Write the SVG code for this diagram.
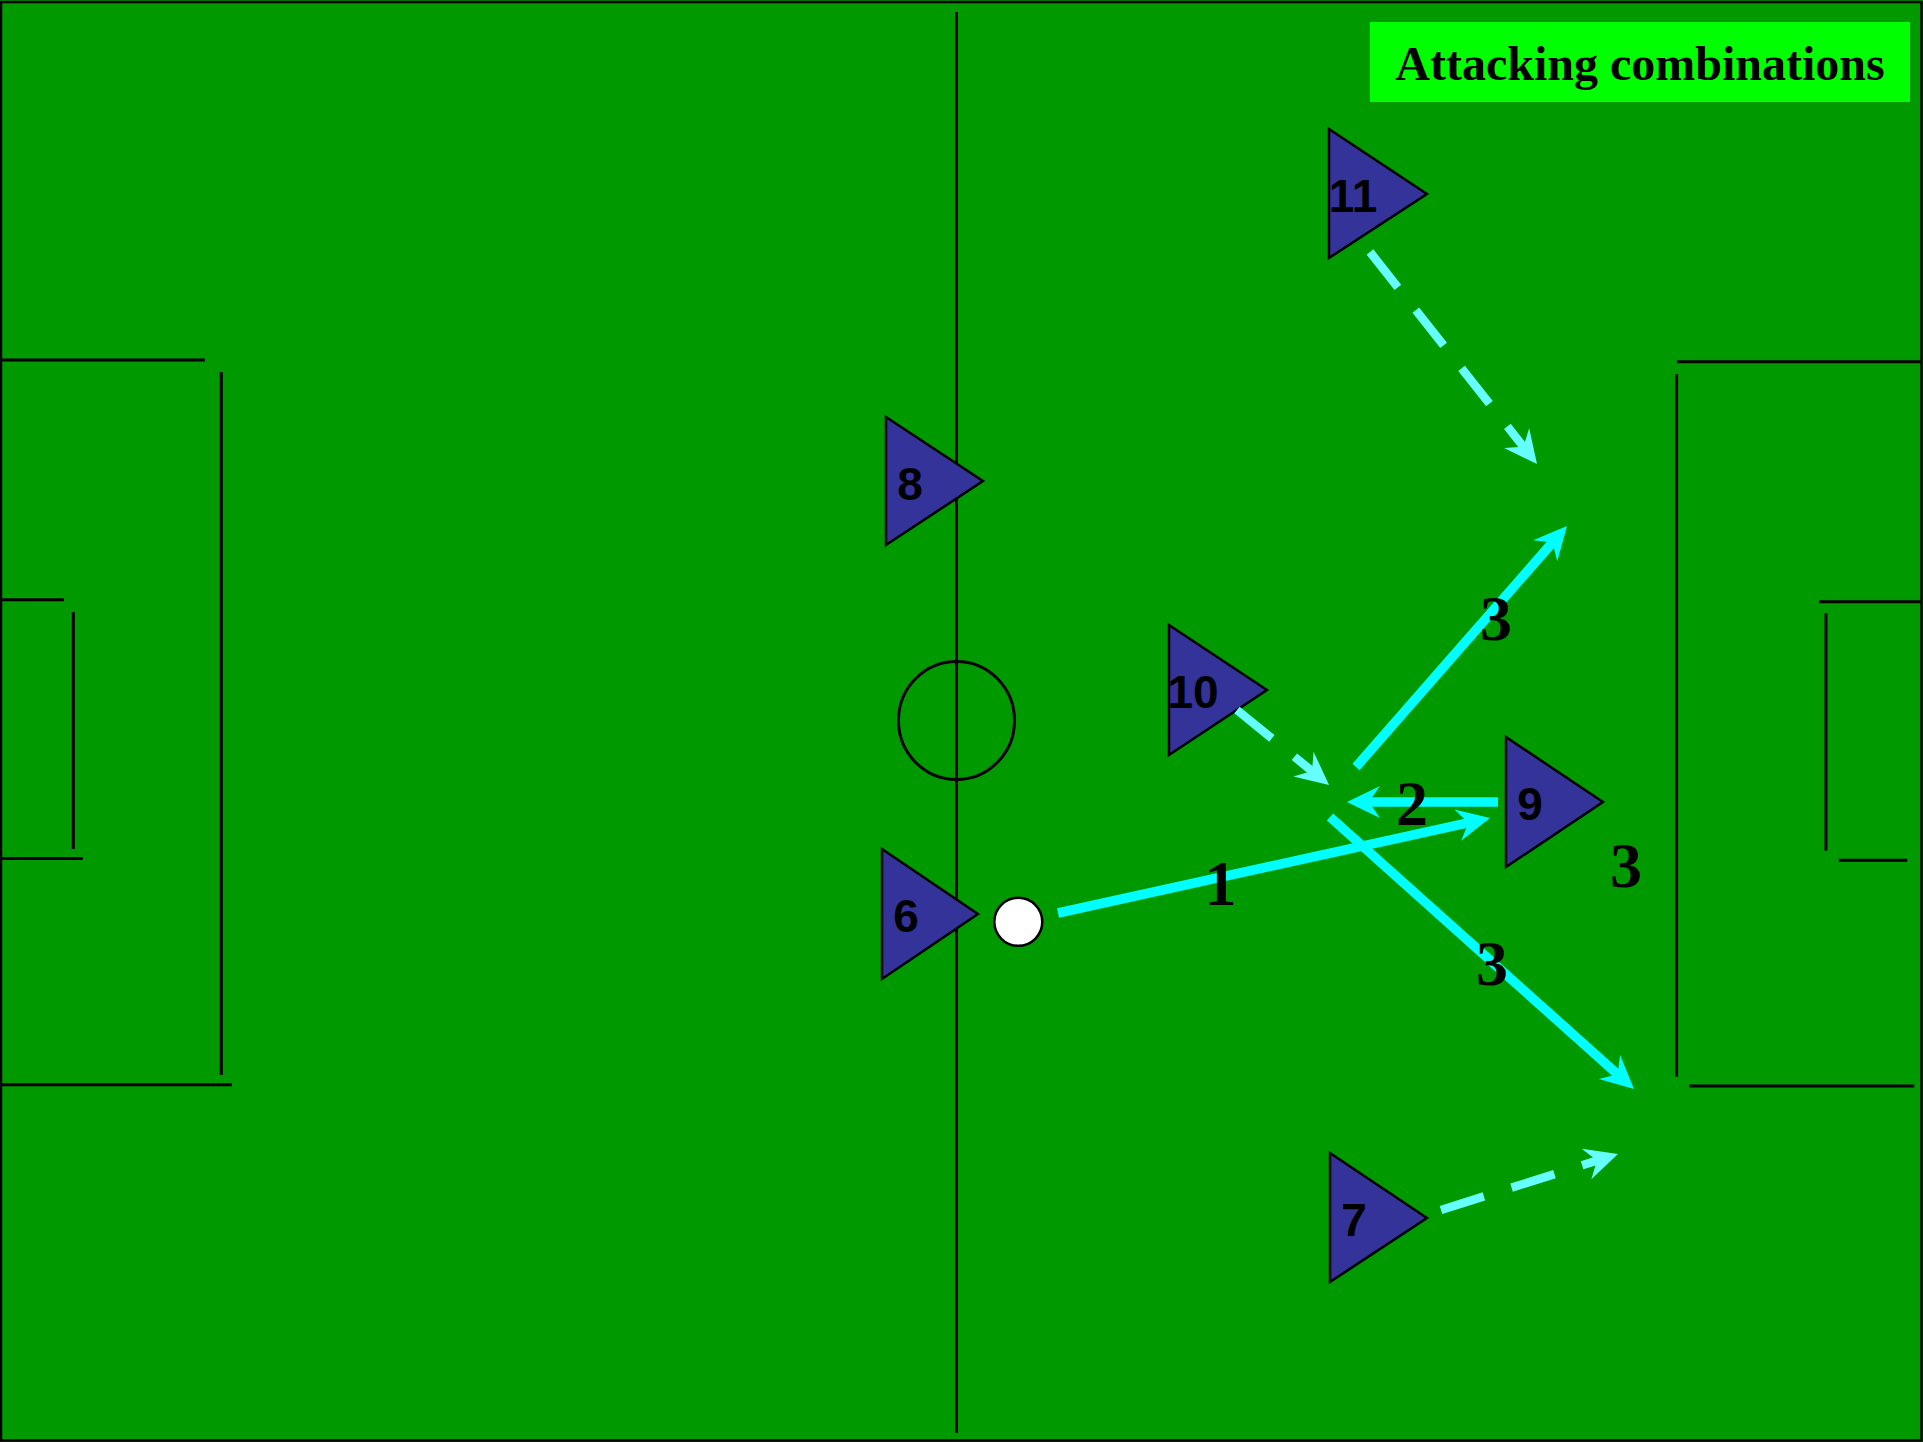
<svg xmlns="http://www.w3.org/2000/svg" width="1923" height="1442" viewBox="0 0 1923 1442">
<style>
.field{fill:#009900}
.mark{stroke:#000;stroke-width:3;fill:none}
.player{fill:#333399;stroke:#000;stroke-width:2.5;stroke-linejoin:miter}
.num{font-family:"Liberation Sans",Arial,sans-serif;font-weight:bold;font-size:46px;fill:#000;text-anchor:middle}
.seq{font-family:"Liberation Serif","Times New Roman",serif;font-weight:bold;font-size:64px;fill:#000;text-anchor:middle}
.pass{stroke:#00FFFF;stroke-width:9.5;fill:none;marker-end:url(#ahPass)}
.run{stroke:#66FFFF;stroke-width:8.5;fill:none;stroke-dasharray:45 29;marker-end:url(#ahRun)}
</style>
<defs>
<marker id="ahPass" markerUnits="userSpaceOnUse" viewBox="-35 -20 40 40" markerWidth="40" markerHeight="40" refX="-18" refY="0" orient="auto">
<path d="M0,0 L-33,-16 L-22,0 L-33,16 Z" fill="#00FFFF"/>
</marker>
<marker id="ahRun" markerUnits="userSpaceOnUse" viewBox="-35 -20 40 40" markerWidth="40" markerHeight="40" refX="-18" refY="0" orient="auto">
<path d="M0,0 L-33,-16 L-22,0 L-33,16 Z" fill="#66FFFF"/>
</marker>
</defs>

<g id="pitch">
<rect class="field" x="0" y="0" width="1923" height="1442"/>
<rect x="1" y="2" width="1920.5" height="1438.5" fill="none" stroke="#000" stroke-width="2.5"/>
<line class="mark" x1="956.5" y1="12" x2="956.5" y2="1433"/>
<ellipse class="mark" cx="956.5" cy="720.5" rx="58" ry="59" stroke-width="2.5"/>
<line class="mark" x1="0" y1="360" x2="205" y2="360"/>
<line class="mark" x1="221.3" y1="372" x2="221.3" y2="1075"/>
<line class="mark" x1="0" y1="1084.7" x2="232" y2="1084.7"/>
<line class="mark" x1="0" y1="599.7" x2="64" y2="599.7"/>
<line class="mark" x1="73.3" y1="612" x2="73.3" y2="849"/>
<line class="mark" x1="0" y1="858.4" x2="83" y2="858.4"/>
<line class="mark" x1="1677" y1="361.7" x2="1921" y2="361.7"/>
<line class="mark" x1="1676.6" y1="374" x2="1676.6" y2="1076.7"/>
<line class="mark" x1="1689.3" y1="1086" x2="1914.3" y2="1086"/>
<line class="mark" x1="1819.3" y1="601.7" x2="1921" y2="601.7"/>
<line class="mark" x1="1826" y1="613.3" x2="1826" y2="850.7"/>
<line class="mark" x1="1838.7" y1="860.3" x2="1907.3" y2="860.3"/>
</g>

<g id="title">
<rect x="1370" y="22" width="540" height="80" fill="#00FF00"/>
<text x="1640" y="79.5" font-family="'Liberation Serif','Times New Roman',serif" font-weight="bold" font-size="48" text-anchor="middle" fill="#000">Attacking combinations</text>
</g>

<g id="player-11">
<polygon class="player" points="1329,129 1427,194 1329,258"/>
<text class="num" x="1353" y="212">11</text>
</g>
<g id="player-8">
<polygon class="player" points="886,417 983,481 886,545"/>
<text class="num" x="910" y="500">8</text>
</g>
<g id="player-10">
<polygon class="player" points="1169,625 1267,690 1169,755"/>
<text class="num" x="1193" y="708">10</text>
</g>
<g id="player-9">
<polygon class="player" points="1506,737 1603,802 1506,867"/>
<text class="num" x="1530" y="820">9</text>
</g>
<g id="player-6">
<polygon class="player" points="882,849 978,914 882,979"/>
<text class="num" x="906" y="932">6</text>
</g>
<g id="player-7">
<polygon class="player" points="1330,1153 1427,1218 1330,1282"/>
<text class="num" x="1354" y="1236">7</text>
</g>
<g id="ball">
<circle cx="1018.3" cy="921.8" r="24" fill="#fff" stroke="#000" stroke-width="2.5"/>
</g>

<g id="connectors">
<line class="pass" x1="1058" y1="913" x2="1472.4" y2="821.9"/>
<line class="pass" x1="1498" y1="802" x2="1365" y2="802"/>
<line class="pass" x1="1356" y1="767" x2="1555.1" y2="539.5"/>
<line class="pass" x1="1330" y1="817" x2="1620.6" y2="1077"/>
<line class="run" x1="1370" y1="252" x2="1525.9" y2="449.9"/>
<line class="run" x1="1237" y1="710" x2="1315.1" y2="773.6"/>
<line class="run" x1="1441" y1="1210" x2="1600.8" y2="1159.4"/>
</g>

<g id="sequence-labels">
<text class="seq" x="1220.5" y="905">1</text>
<text class="seq" x="1412" y="825">2</text>
<text class="seq" x="1496" y="640">3</text>
<text class="seq" x="1626" y="887">3</text>
<text class="seq" x="1492" y="985">3</text>
</g>
</svg>
